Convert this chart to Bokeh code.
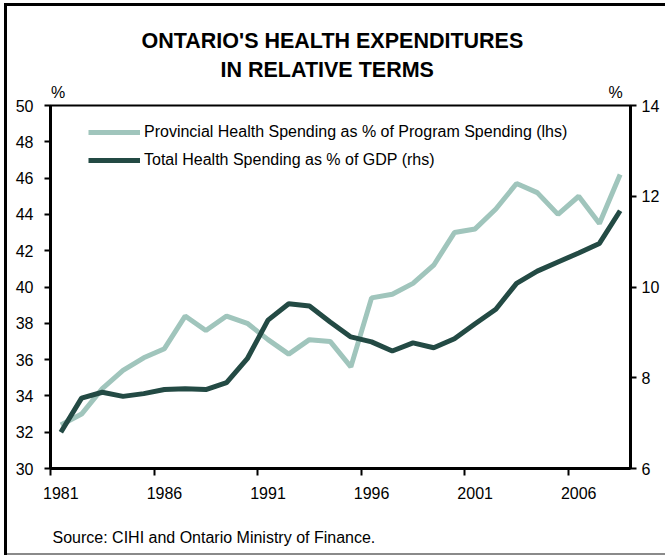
from bokeh.plotting import figure
from bokeh.models import LinearAxis, Range1d, FixedTicker, Title, Legend, LegendItem
from bokeh.embed import file_html
from bokeh.resources import INLINE

# ---- data ----
years = list(range(1981, 2009))
prov_pct_program = [32.4, 33.0, 34.4, 35.4, 36.1, 36.6, 38.4, 37.6, 38.4, 38.0,
                    37.1, 36.3, 37.1, 37.0, 35.6, 39.4, 39.6, 40.2, 41.2, 43.0,
                    43.2, 44.3, 45.7, 45.2, 44.0, 45.0, 43.5, 46.2]
total_pct_gdp = [6.8, 7.55, 7.68, 7.59, 7.65, 7.74, 7.76, 7.74, 7.89, 8.42,
                 9.27, 9.63, 9.58, 9.23, 8.9, 8.79, 8.59, 8.77, 8.66, 8.86,
                 9.19, 9.51, 10.08, 10.35, 10.55, 10.75, 10.96, 11.68]
label_years = [1981, 1986, 1991, 1996, 2001, 2006]
left_ticks = [30, 32, 34, 36, 38, 40, 42, 44, 46, 48, 50]
right_ticks = [6, 8, 10, 12, 14]

title_lines = ["ONTARIO'S HEALTH EXPENDITURES", "IN RELATIVE TERMS"]
series_names = ["Provincial Health Spending as % of Program Spending (lhs)",
                "Total Health Spending as % of GDP (rhs)"]
unit_label = "%"
source_text = "Source: CIHI and Ontario Ministry of Finance."

FONT = "Liberation Sans"
LIGHT = "#A0C5BC"
DARK = "#234A44"

p = figure(width=665, height=556, output_backend="svg", toolbar_location=None,
           x_range=Range1d(years[0] - 0.5, years[-1] + 0.5),
           y_range=Range1d(30, 50),
           min_border_left=50, min_border_right=35,
           min_border_top=105, min_border_bottom=88)
p.extra_y_ranges = {"rhs": Range1d(6, 14)}
p.extra_x_ranges = {"px": Range1d(0, 580)}
p.xgrid.visible = False
p.ygrid.visible = False
p.outline_line_color = "black"
p.outline_line_width = 2
p.border_fill_color = None
p.styles = {
    "background-color": "white",
    "background-image": "linear-gradient(#000,#000), linear-gradient(#000,#000), linear-gradient(#8a8a8a,#8a8a8a)",
    "background-position": "4px 3px, 4px 3px, 4px 553px",
    "background-size": "3px 552px, 661px 3px, 661px 2px",
    "background-repeat": "no-repeat",
}

r1 = p.line(years, prov_pct_program, line_color=LIGHT, line_width=5)
r2 = p.line(years, total_pct_gdp, line_color=DARK, line_width=5, y_range_name="rhs")

raxis = LinearAxis(y_range_name="rhs")
p.add_layout(raxis, "right")

def style_axis(ax):
    ax.axis_line_color = "black"
    ax.axis_line_width = 3
    ax.major_tick_line_color = "black"
    ax.major_tick_line_width = 2
    ax.major_tick_in = 0
    ax.major_tick_out = 6
    ax.minor_tick_in = 0
    ax.minor_tick_out = 0
    ax.major_label_text_font = FONT
    ax.major_label_text_font_size = "16px"
    ax.major_label_text_color = "black"

for ax in [p.xaxis[0], p.yaxis[0], raxis]:
    style_axis(ax)

p.yaxis[0].ticker = FixedTicker(ticks=left_ticks)
p.yaxis[0].major_label_standoff = 11
raxis.ticker = FixedTicker(ticks=right_ticks)
raxis.major_label_standoff = 5

xa = p.xaxis[0]
xa.ticker = FixedTicker(ticks=label_years, minor_ticks=[y - 0.5 for y in label_years])
xa.major_tick_out = 0
xa.minor_tick_out = 7
xa.minor_tick_line_width = 2
xa.minor_tick_line_color = "black"
xa.major_label_standoff = 11
# blank spacer label: pushes the source line lower inside the bottom border
xa.axis_label = " "
xa.axis_label_text_font = FONT
xa.axis_label_text_font_size = "9px"
xa.axis_label_standoff = 3

# "%" unit markers above the two value axes
pct_pos = [7.5, 565.0]
pct_axis = LinearAxis(x_range_name="px", ticker=FixedTicker(ticks=pct_pos),
                      major_label_overrides={v: unit_label for v in pct_pos},
                      axis_line_color=None, major_tick_line_color=None,
                      minor_tick_line_color=None, major_tick_out=0, major_tick_in=0,
                      minor_tick_out=0, minor_tick_in=0, major_label_standoff=5,
                      major_label_text_font=FONT, major_label_text_font_size="16px",
                      major_label_text_color="black")
p.add_layout(pct_axis, "above")

# titles: later additions sit farther from the frame
p.add_layout(Title(text=title_lines[1], align="left", offset=170, standoff=-2,
                   text_font=FONT, text_font_size="21.5px", text_font_style="bold",
                   text_color="black"), "above")
p.add_layout(Title(text=title_lines[0], align="left", offset=91, standoff=7,
                   text_font=FONT, text_font_size="21.5px", text_font_style="bold",
                   text_color="black"), "above")

p.add_layout(Title(text=source_text, align="left", offset=2, standoff=18,
                   text_font=FONT, text_font_size="16px", text_font_style="normal",
                   text_color="black"), "below")

legend = Legend(items=[LegendItem(label=series_names[0], renderers=[r1]),
                       LegendItem(label=series_names[1], renderers=[r2])],
                location=(38, 298), padding=0, margin=0, spacing=8,
                glyph_width=52, glyph_height=20, label_height=20,
                label_standoff=4, border_line_color=None, background_fill_alpha=0,
                label_text_font=FONT, label_text_font_size="16px",
                label_text_color="black")
p.add_layout(legend, "center")

open("out.html", "w").write(file_html(p, INLINE))
